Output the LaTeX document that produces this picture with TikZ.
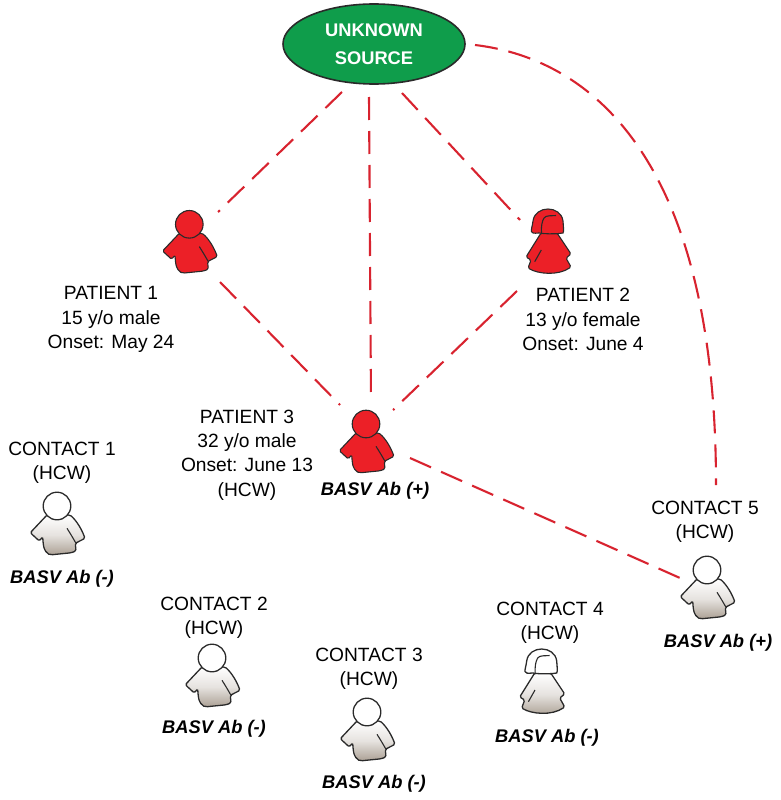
\documentclass[tikz,border=0pt]{standalone}
\usepackage{fontspec}
\setmainfont{Liberation Sans}
\usetikzlibrary{shapes.geometric,calc}
\definecolor{redfill}{HTML}{EC2027}
\definecolor{redline}{HTML}{D8232F}
\definecolor{outl}{HTML}{2A2A2A}
\definecolor{srcgreen}{HTML}{0F9D4B}
\definecolor{greybot}{HTML}{ABA094}
\tikzset{
  redfigbody/.style={draw=outl,fill=redfill,line width=1.1pt,line join=round},
  redfighead/.style={draw=outl,fill=redfill,line width=1.1pt},
  greyfigbody/.style={draw=outl,top color=white,bottom color=greybot,middle color=white!70!greybot,line width=1.3pt,line join=round},
  greyfighead/.style={draw=outl,fill=white,line width=1.3pt},
  figline/.style={draw=outl,line width=1.1pt},
  pics/malefig/.style={code={
    \draw[#1body,rounded corners=1.5pt] (-10,9) -- (-26.7,26.7) -- (-17.7,35) -- (-14.3,30.7)
      .. controls (-14,36) and (-13.5,41) .. (-12,44)
      .. controls (-10,48) and (-7,49) .. (-3,48.5)
      -- (14,46.8) -- (19,45) -- (18.3,37.3) -- (28,32.3)
      .. controls (25,24) and (20,15) .. (13,9) -- cycle;
    \draw[figline] (10,22.3) .. controls (13,27) and (16,32) .. (19,37.3);
    \draw[#1head] (0,0) circle (13.8);
  }},
  pics/femalefig/.style={code={
    \draw[#1body,rounded corners=1.5pt] (-7,8) -- (-22,32) -- (-17,35) -- (-20,43)
      .. controls (-10,49) and (10,51) .. (23,42) -- (18,33) -- (23,29) -- (9,8) -- cycle;
    \draw[figline] (-6.7,25) -- (-13.3,36.7);
    \draw[#1head] (-9,8) .. controls (-20,9) and (-16.5,7) .. (-15,-4)
      .. controls (-13,-20) and (13,-20) .. (15,-4)
      .. controls (15.5,3) and (16,6) .. (15,8) -- (11,8.5)
      .. controls (5,9) and (-3,9) .. (-9,8) -- cycle;
    \draw[figline] (-6.5,8.5) .. controls (-7,2) and (-6,-4) .. (-4,-7) .. controls (-2,-10) and (4,-9) .. (8,-9.5);
  }},
  personbox/.style={minimum width=58pt,minimum height=66pt,inner sep=0pt},
  src/.style={ellipse,draw=outl,fill=srcgreen,line width=1.6pt,minimum width=182pt,minimum height=80pt,inner sep=0pt,
    text=white,font=\fontsize{18.3}{28}\selectfont\bfseries,align=center},
  info/.style={align=center,inner sep=0pt,font=\fontsize{19.2}{24.4}\selectfont},
  abtag/.style={inner sep=0pt,font=\fontsize{18.3}{22}\selectfont\bfseries\itshape},
  link/.style={draw=redline,line width=2.1pt,dash pattern=on 23pt off 11pt},
}
\begin{document}
\begin{tikzpicture}[x=1pt,y=-1pt]
\useasboundingbox (0,0) rectangle (781,800);
% source
\node[src] (source) at (374,44) {UNKNOWN\\SOURCE};
% people: invisible boxes carry the names, pics draw the figures
\node[personbox] (p1) at (189,240) {};
\pic at (189.3,224.3) {malefig=redfig};
\node[personbox] (p2) at (548,245) {};
\pic at (548,225) {femalefig=redfig};
\node[personbox] (p3) at (366,445) {};
\pic at (366,424) {malefig=redfig};
\node[personbox] (c1) at (57,527) {};
\pic at (57,506) {malefig=greyfig};
\node[personbox] (c2) at (212,679) {};
\pic at (212,658) {malefig=greyfig};
\node[personbox] (c3) at (367,733) {};
\pic at (367,712) {malefig=greyfig};
\node[personbox] (c4) at (542,685) {};
\pic at (541.7,665) {femalefig=greyfig};
\node[personbox] (c5) at (707,591) {};
\pic at (707,570) {malefig=greyfig};
% links
\draw[link] ($(source)+(-32,48)$) -- ($(p1)+(29,-28)$);
\draw[link] ($(source)+(-5,53)$) -- ($(p3)+(5,-43)$);
\draw[link] ($(source)+(28,49)$) -- ($(p2)+(-28,-25)$);
\draw[link] ($(p1)+(31,42)$) -- ($(p3)+(-26,-40)$);
\draw[link] ($(p2)+(-31,46)$) -- ($(p3)+(27,-35)$);
\draw[link] ($(p3)+(44,13)$) -- ($(c5)+(-27,-13)$);
\draw[link] ($(source)+(101,1)$) .. controls (560,55) and (716,120) .. ($(c5)+(9,-106)$);
% labels
\node[info] (t1) at (111,319.5) {PATIENT 1\\15 y/o male\\Onset: May 24};
\node[info] (t2) at (583,319.5) {PATIENT 2\\13 y/o female\\Onset: June 4};
\node[info] (t3) at (247,455) {PATIENT 3\\32 y/o male\\Onset: June 13\\(HCW)};
\node[abtag] (a3) at (375,491) {BASV Ab (+)};
\node[info] (t4) at (62,463) {CONTACT 1\\(HCW)};
\node[abtag] (a4) at (62,579) {BASV Ab (-)};
\node[info] (t5) at (214,618) {CONTACT 2\\(HCW)};
\node[abtag] (a5) at (214,729) {BASV Ab (-)};
\node[info] (t6) at (369,669) {CONTACT 3\\(HCW)};
\node[abtag] (a6) at (374,784) {BASV Ab (-)};
\node[info] (t7) at (550,623) {CONTACT 4\\(HCW)};
\node[abtag] (a7) at (547,738) {BASV Ab (-)};
\node[info] (t8) at (705,522) {CONTACT 5\\(HCW)};
\node[abtag] (a8) at (718,643) {BASV Ab (+)};
\end{tikzpicture}
\end{document}
